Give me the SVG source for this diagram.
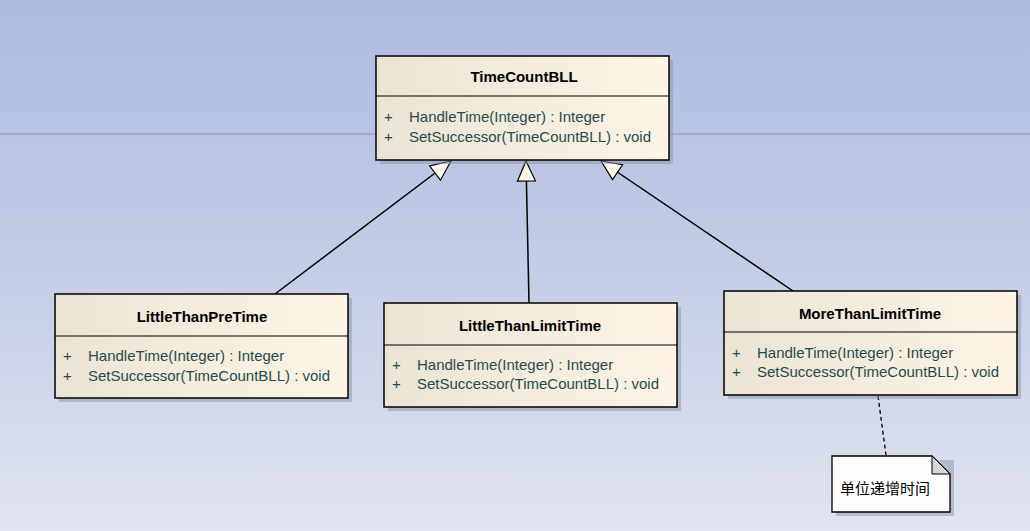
<svg xmlns="http://www.w3.org/2000/svg" width="1030" height="531" viewBox="0 0 1030 531">
<defs>
<linearGradient id="bg" x1="0" y1="0" x2="0" y2="1">
<stop offset="0" stop-color="#adbadf"/>
<stop offset="0.5" stop-color="#c3cde6"/>
<stop offset="1" stop-color="#e1e4f0"/>
</linearGradient>
<linearGradient id="box" x1="0" y1="0" x2="1" y2="0">
<stop offset="0" stop-color="#ebe3d3"/>
<stop offset="1" stop-color="#fdf4e6"/>
</linearGradient>
<marker id="gen" markerUnits="userSpaceOnUse" markerWidth="24" markerHeight="22" refX="22" refY="10" orient="auto">
<polygon points="22,10 2,1 2,19" fill="#fdf6e8" stroke="#000" stroke-width="1.2"/>
</marker>
<style>
.shadow{fill:#8c93a8;opacity:0.5}
.cls{fill:url(#box);stroke:#000;stroke-width:1.5}
.div{stroke:#000;stroke-width:1.2}
.title{font-family:"Liberation Sans",Arial,sans-serif;font-size:15px;font-weight:bold;fill:#000;text-anchor:middle}
.mem{font-family:"Liberation Sans",Arial,sans-serif;font-size:15px;fill:#1f4d4d}
.conn{stroke:#000;stroke-width:1.5;fill:none}
.note{font-family:"Noto Sans CJK SC","Liberation Sans",sans-serif;font-size:15px;fill:#000}
</style>
</defs>
<rect width="1030" height="531" fill="url(#bg)"/>
<line x1="0" y1="134" x2="1030" y2="134" stroke="#a5a8cc" stroke-width="2"/>

<g id="connectors">
<line class="conn" x1="275" y1="294" x2="451" y2="161" marker-end="url(#gen)"/>
<line class="conn" x1="529" y1="303" x2="526" y2="161" marker-end="url(#gen)"/>
<line class="conn" x1="793" y1="291" x2="601" y2="161" marker-end="url(#gen)"/>
<line x1="878" y1="396" x2="886" y2="455" stroke="#000" stroke-width="1.3" stroke-dasharray="4,3"/>
</g>

<g id="TimeCountBLL">
<rect class="shadow" x="380" y="60" width="293" height="104"/>
<rect class="cls" x="376" y="56" width="293" height="104"/>
<line class="div" x1="376" y1="96" x2="669" y2="96"/>
<text class="title" x="524" y="82">TimeCountBLL</text>
<text class="mem" x="384" y="122">+</text>
<text class="mem" x="409" y="122">HandleTime(Integer) : Integer</text>
<text class="mem" x="384" y="142">+</text>
<text class="mem" x="409" y="142">SetSuccessor(TimeCountBLL) : void</text>
</g>

<g id="LittleThanPreTime">
<rect class="shadow" x="59" y="298" width="293" height="104"/>
<rect class="cls" x="55" y="294" width="293" height="104"/>
<line class="div" x1="55" y1="336" x2="348" y2="336"/>
<text class="title" x="202" y="322">LittleThanPreTime</text>
<text class="mem" x="63" y="361">+</text>
<text class="mem" x="88" y="361">HandleTime(Integer) : Integer</text>
<text class="mem" x="63" y="381">+</text>
<text class="mem" x="88" y="381">SetSuccessor(TimeCountBLL) : void</text>
</g>

<g id="LittleThanLimitTime">
<rect class="shadow" x="388" y="307" width="293" height="104"/>
<rect class="cls" x="384" y="303" width="293" height="104"/>
<line class="div" x1="384" y1="345" x2="677" y2="345"/>
<text class="title" x="530" y="331">LittleThanLimitTime</text>
<text class="mem" x="392" y="370">+</text>
<text class="mem" x="417" y="370">HandleTime(Integer) : Integer</text>
<text class="mem" x="392" y="389">+</text>
<text class="mem" x="417" y="389">SetSuccessor(TimeCountBLL) : void</text>
</g>

<g id="MoreThanLimitTime">
<rect class="shadow" x="728" y="295" width="293" height="104"/>
<rect class="cls" x="724" y="291" width="293" height="104"/>
<line class="div" x1="724" y1="332" x2="1017" y2="332"/>
<text class="title" x="870" y="319">MoreThanLimitTime</text>
<text class="mem" x="732" y="358">+</text>
<text class="mem" x="757" y="358">HandleTime(Integer) : Integer</text>
<text class="mem" x="732" y="377">+</text>
<text class="mem" x="757" y="377">SetSuccessor(TimeCountBLL) : void</text>
</g>

<g id="note">
<path d="M836 460 H954 V516 H836 Z" class="shadow"/>
<path d="M832 456 H932 L950 474 V512 H832 Z" fill="#fdfdfd" stroke="#000" stroke-width="1.3"/>
<path d="M932 456 V474 H950 Z" fill="#d6d6d6" stroke="#000" stroke-width="1"/>
<text class="note" x="840" y="494">单位递增时间</text>
</g>
</svg>
